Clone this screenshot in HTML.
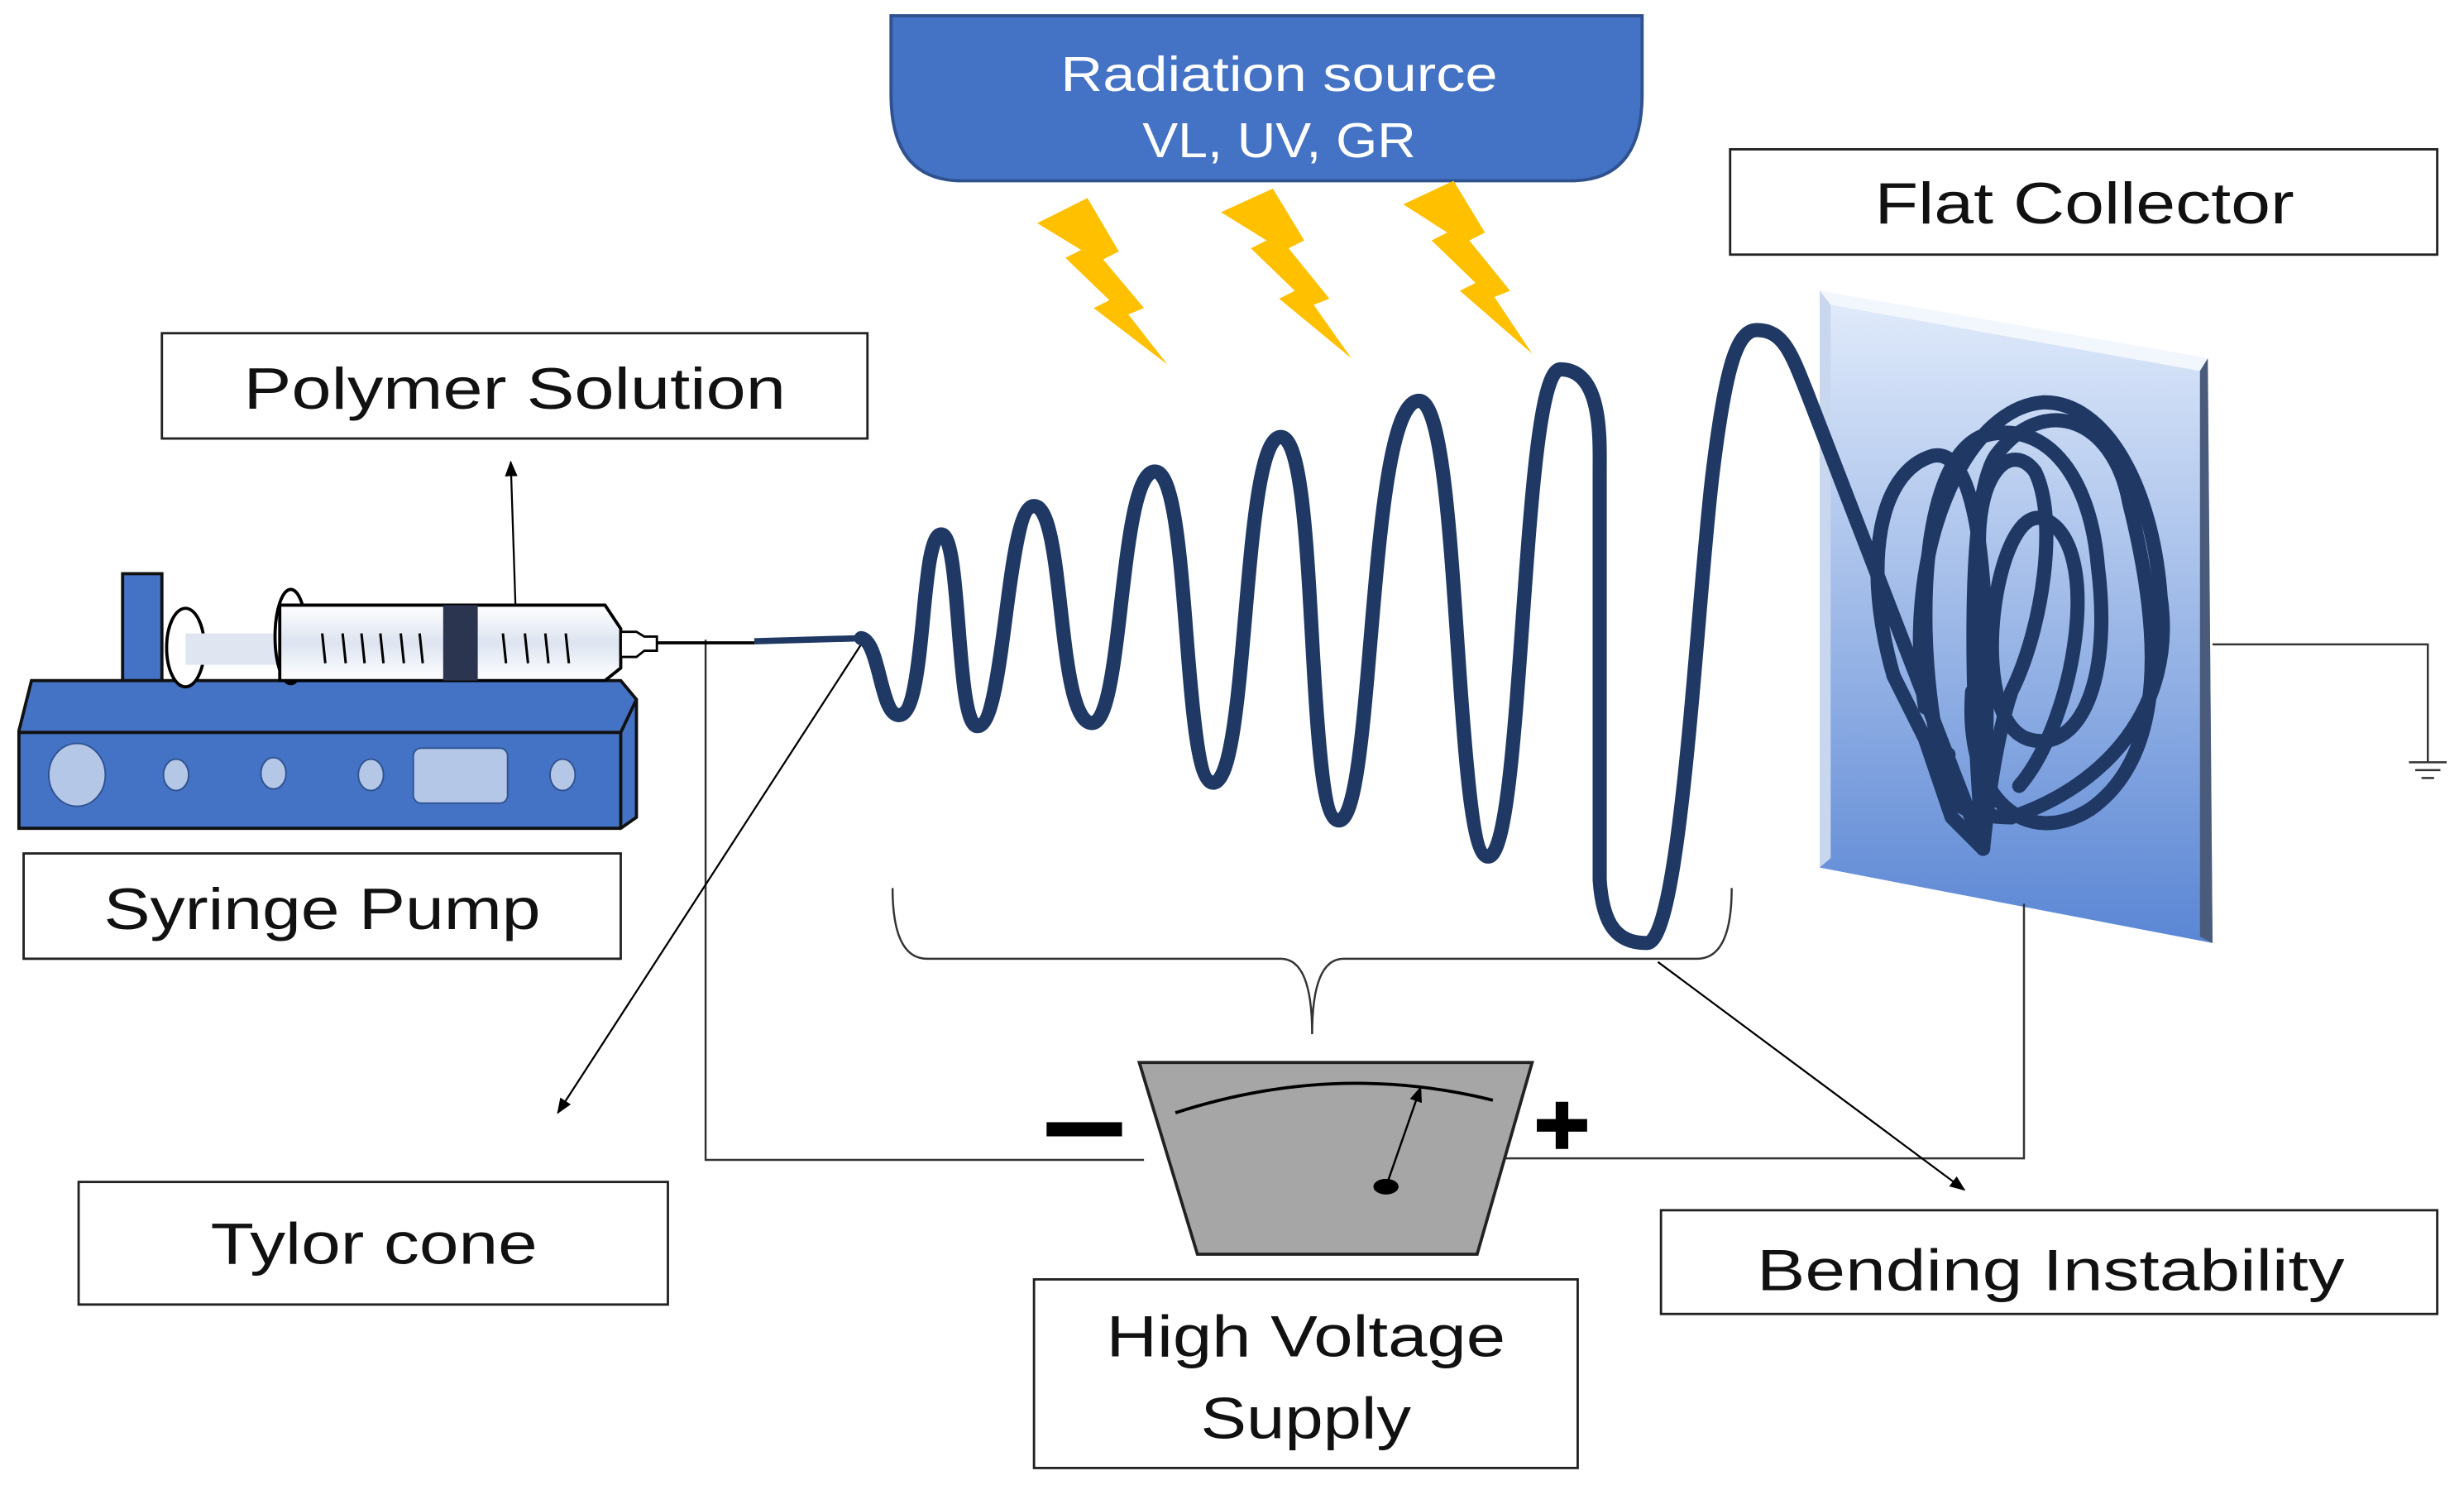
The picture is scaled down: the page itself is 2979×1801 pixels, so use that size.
<!DOCTYPE html>
<html><head><meta charset="utf-8"><style>
html,body{margin:0;padding:0;background:#fff;}
svg{display:block}
text{font-family:"Liberation Sans",sans-serif;}
</style></head><body>
<svg width="2979" height="1801" viewBox="0 0 1568 948" xmlns="http://www.w3.org/2000/svg">
<defs>
<linearGradient id="col" x1="0" y1="0" x2="0" y2="1">
<stop offset="0" stop-color="#e2ecfb"/><stop offset="1" stop-color="#5a86d4"/>
</linearGradient>
<linearGradient id="syr" x1="0" y1="0" x2="0" y2="1">
<stop offset="0" stop-color="#fff"/><stop offset="0.5" stop-color="#dde4f0"/><stop offset="1" stop-color="#fff"/>
</linearGradient>
<marker id="ar" markerWidth="10" markerHeight="10" refX="9" refY="5" orient="auto" markerUnits="userSpaceOnUse">
<path d="M0,1 L10,5 L0,9 Z" fill="#000"/></marker>
</defs>

<path d="M567,10 L1045,10 L1045,60 Q1045,115 1000,115 L612,115 Q567,115 567,60 Z" fill="#4472c4" stroke="#2f528f" stroke-width="2"/>
<text x="675" y="58" font-size="31" fill="#fff" textLength="278" lengthAdjust="spacingAndGlyphs">Radiation source</text>
<text x="727" y="100" font-size="31" fill="#fff" textLength="174" lengthAdjust="spacingAndGlyphs">VL, UV, GR</text>

<g fill="#ffc000">
<path d="M660,142 L692,126 L712,160 L702,165 L728,196 L718,200 L743,232 L696,196 L706,191 L678,164 L688,159 Z"/>
<path d="M777,135 L810,120 L830,153 L820,158 L846,190 L836,194 L860,228 L814,190 L824,185 L796,158 L806,153 Z"/>
<path d="M893,130 L925,115 L945,148 L935,153 L961,185 L951,189 L975,225 L929,185 L939,180 L911,153 L921,148 Z"/>
</g>

<path d="M1158,185 L1405,228 L1408,600 L1158,552 Z" fill="url(#col)"/>
<path d="M1158,185 L1405,228 L1400,236 L1165,194 Z" fill="#f2f6fd"/>
<path d="M1405,228 L1408,600 L1400,596 L1400,236 Z" fill="#4a5b7c"/>
<path d="M1158,185 L1165,194 L1165,546 L1158,552 Z" fill="#c8d6ee"/>

<g fill="#fff" stroke="#222" stroke-width="1.5">
<rect x="1101" y="95" width="450" height="67"/>
<rect x="103" y="212" width="449" height="67"/>
<rect x="15" y="543" width="380" height="67"/>
<rect x="50" y="752" width="375" height="78"/>
<rect x="658" y="814" width="346" height="120"/>
<rect x="1057" y="770" width="494" height="66"/>
</g>
<g font-size="37" fill="#111" lengthAdjust="spacingAndGlyphs">
<text x="1193" y="142" textLength="267" lengthAdjust="spacingAndGlyphs">Flat Collector</text>
<text x="155" y="260" textLength="345" lengthAdjust="spacingAndGlyphs">Polymer Solution</text>
<text x="66" y="591" textLength="278" lengthAdjust="spacingAndGlyphs">Syringe Pump</text>
<text x="134" y="804" textLength="208" lengthAdjust="spacingAndGlyphs">Tylor cone</text>
<text x="704" y="863" textLength="254" lengthAdjust="spacingAndGlyphs">High Voltage</text>
<text x="764" y="915" textLength="134" lengthAdjust="spacingAndGlyphs">Supply</text>
<text x="1118" y="821" textLength="374" lengthAdjust="spacingAndGlyphs">Bending Instability</text>
</g>

<g fill="none" stroke="#333" stroke-width="1.3">
<path d="M449,407 L449,738 L728,738"/>
<path d="M958,737 L1288,737 L1288,575"/>
<path d="M1408,410 L1545,410 L1545,485"/>
<path d="M1533,485 L1557,485 M1537,490 L1553,490 M1541,495 L1549,495"/>
<path d="M568,565 Q568,610 590,610 L815,610 Q835,610 835,658 Q835,610 855,610 L1080,610 Q1102,610 1102,565"/>
</g>
<g stroke="#000" stroke-width="1.2" fill="none">
<line x1="328" y1="385" x2="325" y2="294" marker-end="url(#ar)"/>
<line x1="548" y1="410" x2="355" y2="708" marker-end="url(#ar)"/>
<line x1="1055" y1="612" x2="1250" y2="757" marker-end="url(#ar)"/>
</g>

<path d="M725,676 L975,676 L940,798 L762,798 Z" fill="#a6a6a6" stroke="#222" stroke-width="2"/>
<path d="M748,708 Q850,675 950,700" fill="none" stroke="#000" stroke-width="2"/>
<line x1="882" y1="755" x2="904" y2="692" stroke="#000" stroke-width="1.3" marker-end="url(#ar)"/>
<ellipse cx="882" cy="755" rx="8" ry="5" fill="#000"/>
<rect x="666" y="714" width="48" height="9" fill="#000"/>
<path d="M978,716 L1010,716 M994,701 L994,731" stroke="#000" stroke-width="8"/>

<rect x="78" y="365" width="25" height="70" fill="#4472c4" stroke="#111" stroke-width="2"/>
<path d="M20,433 L395,433 L405,445 L405,520 L395,527 L12,527 L12,465 Z" fill="#4472c4" stroke="#111" stroke-width="2"/>
<path d="M12,466 L395,466 L395,527 M395,466 L405,445" fill="none" stroke="#111" stroke-width="2"/>
<g fill="#b4c7e7" stroke="#2f528f" stroke-width="1">
<ellipse cx="49" cy="493" rx="18" ry="20"/>
<ellipse cx="112" cy="493" rx="8" ry="10"/>
<ellipse cx="174" cy="492" rx="8" ry="10"/>
<ellipse cx="236" cy="493" rx="8" ry="10"/>
<rect x="263" y="476" width="60" height="35" rx="5"/>
<ellipse cx="358" cy="493" rx="8" ry="10"/>
</g>
<ellipse cx="118" cy="412" rx="12" ry="25" fill="#fff" stroke="#000" stroke-width="2"/>
<rect x="118" y="403" width="62" height="20" fill="#dfe6f2"/>
<ellipse cx="185" cy="405" rx="10" ry="30" fill="#fff" stroke="#000" stroke-width="2"/>
<path d="M178,385 L385,385 L395,400 L395,425 L385,433 L178,433 Z" fill="url(#syr)" stroke="#000" stroke-width="2"/>
<rect x="282" y="385" width="22" height="48" fill="#2b3550"/>
<g stroke="#000" stroke-width="1.6">
<path d="M205,403 L207,422 M218,403 L220,422 M230,403 L232,422 M242,403 L244,422 M255,403 L257,422 M267,403 L269,422 M320,403 L322,422 M334,403 L336,422 M347,403 L349,422 M360,403 L362,422"/>
</g>
<path d="M395,402 L405,402 L410,405 L418,405 L418,414 L410,414 L405,418 L395,418 Z" fill="#fff" stroke="#000" stroke-width="1.5"/>
<line x1="418" y1="409" x2="480" y2="409" stroke="#000" stroke-width="2"/>
<line x1="480" y1="408" x2="550" y2="406" stroke="#1f3864" stroke-width="4"/>

<path d="M548,406 C560,408 560,455 572,455 C590,455 585,340 599,340 C612,340 608,462 622,462 C640,462 640,322 658,322 C678,322 672,460 695,460 C715,460 712,300 735,300 C758,300 752,498 772,498 C795,498 790,278 815,278 C840,278 830,522 852,522 C875,522 870,255 903,255 C930,255 925,545 947,545 C970,545 968,235 993,235 C1020,235 1018,280 1018,300 L1018,560 C1020,590 1030,600 1048,600 C1070,600 1080,380 1090,300 C1098,235 1105,210 1118,210 C1135,210 1140,225 1150,250 L1262,540 L1242,520 L1225,470 L1205,430"
 fill="none" stroke="#1f3864" stroke-width="9" stroke-linejoin="round" stroke-linecap="round"/>
<g fill="none" stroke="#1f3864" stroke-width="9" stroke-linecap="round">
<path d="M1205,430 C1185,360 1195,300 1230,290 C1280,280 1260,540 1262,540"/>
<path d="M1262,540 C1255,460 1250,320 1270,290 C1300,250 1345,265 1355,320 C1375,400 1380,480 1330,515 C1290,540 1250,510 1255,440"/>
<path d="M1240,500 C1220,440 1215,300 1260,278 C1300,265 1330,300 1335,360 C1345,440 1320,480 1290,470 C1250,455 1270,320 1300,330 C1340,345 1320,460 1285,500"/>
<path d="M1225,450 C1210,350 1250,260 1300,256 C1340,255 1370,310 1375,380 C1385,450 1340,500 1280,520 C1240,520 1230,500 1240,480"/>
<path d="M1260,360 C1255,300 1280,280 1295,300 C1310,330 1300,400 1280,440 C1270,470 1265,510 1262,540"/>
</g>
</svg>
</body></html>
